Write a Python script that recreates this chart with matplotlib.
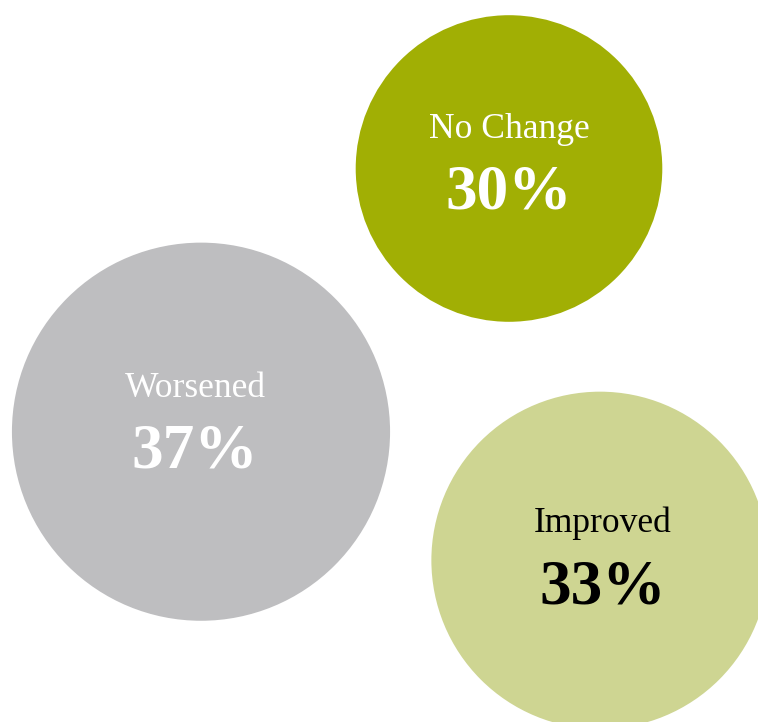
import matplotlib
matplotlib.use("Agg")
import matplotlib.pyplot as plt
from matplotlib.patches import Circle

# данные
categories = ["No Change", "Worsened", "Improved"]
values = [30, 37, 33]
value_labels = ["30%", "37%", "33%"]

# раскладка пузырей (пиксели, ось y вниз)
centers_x = [509, 201, 600]
centers_y = [168.5, 431.7, 560.3]
px_per_unit = 5.11  # радиус пропорционален значению

# смещения подписей относительно центра
text_dx = [0, -6, 3]
label_dy = [-31, -35, -28]
value_dy = [40, 36, 43]

colors = ["#A1AF04", "#BEBEC0", "#CED592"]
text_colors = ["white", "white", "black"]

W, H = 758, 722
fig = plt.figure(figsize=(W / 100, H / 100), dpi=100)
ax = fig.add_axes([0, 0, 1, 1])
ax.set_xlim(0, W)
ax.set_ylim(H, 0)
ax.set_aspect("equal")
ax.axis("off")

font = "Liberation Serif"
for i, cat in enumerate(categories):
    r = values[i] * px_per_unit
    ax.add_patch(Circle((centers_x[i], centers_y[i]), r, color=colors[i], lw=0))
    tx = centers_x[i] + text_dx[i]
    ax.text(tx, centers_y[i] + label_dy[i], cat, ha="center", va="baseline",
            fontsize=25.6, family=font, color=text_colors[i])
    ax.text(tx, centers_y[i] + value_dy[i], value_labels[i], ha="center", va="baseline",
            fontsize=45.5, family=font, weight="bold", color=text_colors[i])

fig.savefig("out.png", dpi=100)
